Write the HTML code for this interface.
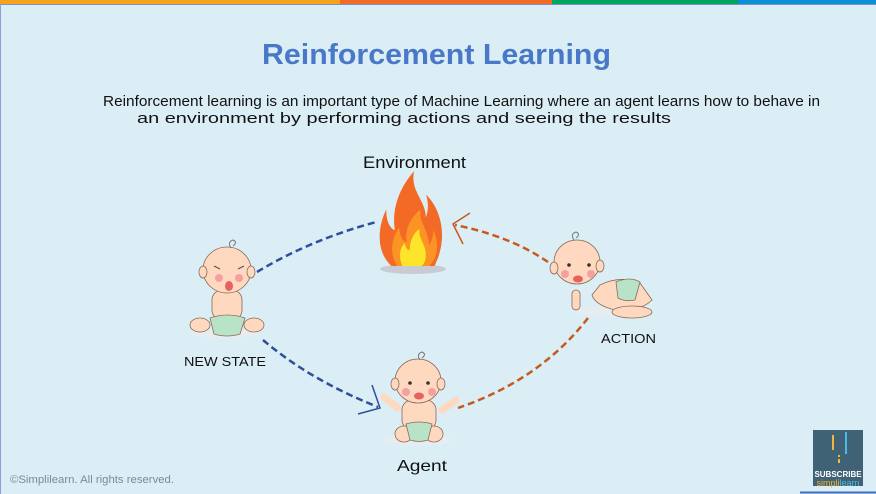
<!DOCTYPE html>
<html><head><meta charset="utf-8"><style>
html,body{margin:0;padding:0}
body{width:876px;height:494px;overflow:hidden;background:#dbeef6;font-family:"Liberation Sans",sans-serif;position:relative}
</style></head><body>
<svg width="876" height="494" viewBox="0 0 876 494" xmlns="http://www.w3.org/2000/svg" style="position:absolute;left:0;top:0">
<rect x="0" y="0" width="876" height="494" fill="#dbeef6"/>
<rect x="0" y="0" width="340" height="4" fill="#f7a21b"/>
<rect x="340" y="0" width="212" height="4" fill="#f26a25"/>
<rect x="552" y="0" width="186" height="4" fill="#00a65a"/>
<rect x="738" y="0" width="138" height="4" fill="#0d8fd6"/>
<line x1="0" y1="4.5" x2="876" y2="4.5" stroke="#7a93d0" stroke-width="1"/>
<line x1="0.5" y1="4" x2="0.5" y2="494" stroke="#8aa0d8" stroke-width="1"/>

<text x="262" y="64" textLength="349" lengthAdjust="spacingAndGlyphs" font-size="29" font-weight="bold" fill="#4a78c8">Reinforcement Learning</text>
<text x="103" y="106" textLength="717" lengthAdjust="spacingAndGlyphs" font-size="14.5" fill="#111">Reinforcement learning is an important type of Machine Learning where an agent learns how to behave in</text>
<text x="137" y="123" textLength="534" lengthAdjust="spacingAndGlyphs" font-size="14.5" fill="#111">an environment by performing actions and seeing the results</text>
<text x="363" y="168" textLength="103" lengthAdjust="spacingAndGlyphs" font-size="17" fill="#111">Environment</text>
<text x="184" y="366" textLength="82" lengthAdjust="spacingAndGlyphs" font-size="13" fill="#111">NEW STATE</text>
<text x="601" y="343" textLength="55" lengthAdjust="spacingAndGlyphs" font-size="13" fill="#111">ACTION</text>
<text x="397" y="471" textLength="50" lengthAdjust="spacingAndGlyphs" font-size="16" fill="#111">Agent</text>
<text x="10" y="483" textLength="164" lengthAdjust="spacingAndGlyphs" font-size="11" fill="#7a8a96">©Simplilearn. All rights reserved.</text>

<path d="M257 272 Q310 240 376 222" fill="none" stroke="#2f4f9a" stroke-width="2.5" stroke-dasharray="7 4"/>
<path d="M263 340 Q310 380 378 407" fill="none" stroke="#2f4f9a" stroke-width="2.5" stroke-dasharray="7 4"/>
<polyline points="372,385 380,408 358,414" fill="none" stroke="#2f4f9a" stroke-width="1.5"/>
<path d="M548 262 Q510 236 455 225" fill="none" stroke="#c55a1c" stroke-width="2.5" stroke-dasharray="7 4"/>
<polyline points="470,213 453,224 463,244" fill="none" stroke="#c55a1c" stroke-width="1.5"/>
<path d="M588 318 Q540 380 458 408" fill="none" stroke="#c55a1c" stroke-width="2.5" stroke-dasharray="7 4"/>

<ellipse cx="413" cy="269" rx="33" ry="5" fill="#c8ccd2"/>
<g transform="translate(413,266) scale(1.07,1.28) translate(-413,-266)">
<path d="M393 266 C378 255 380 235 388 222 C388 232 392 237 396 238 C393 222 400 205 414 192 C410 207 425 215 425 228 C428 222 427 214 425 210 C440 222 446 245 433 266 Z" fill="#f26a25"/>
<path d="M398 266 C390 255 394 243 400 236 C401 244 404 247 407 247 C405 237 412 227 420 222 C418 232 428 238 428 250 C431 246 432 242 432 238 C438 248 436 260 428 266 Z" fill="#fb9425"/>
<path d="M403 266 C399 258 401 252 405 248 C407 254 409 254 410 253 C410 246 414 240 419 237 C418 245 425 249 425 257 C425 262 423 265 421 266 Z" fill="#fde52b"/>
</g>

<g stroke="#8a6a5a" stroke-width="0.8">
<ellipse cx="225" cy="333" rx="34" ry="5" fill="#e6ecef" stroke="none"/>
<ellipse cx="200" cy="325" rx="10" ry="7" fill="#ffd9bf"/>
<ellipse cx="254" cy="325" rx="10" ry="7" fill="#ffd9bf"/>
<rect x="212" y="290" width="30" height="30" rx="10" fill="#ffd9bf"/>
<path d="M210 318 Q227 312 245 318 L240 334 Q227 338 214 334 Z" fill="#b9e3c7"/>
<ellipse cx="227" cy="270" rx="24" ry="23" fill="#ffd9bf"/>
<ellipse cx="203" cy="272" rx="4" ry="6" fill="#ffd9bf"/>
<ellipse cx="251" cy="272" rx="4" ry="6" fill="#ffd9bf"/>
</g>
<circle cx="219" cy="278" r="4" fill="#f4a0a0"/><circle cx="239" cy="278" r="4" fill="#f4a0a0"/>
<ellipse cx="229" cy="286" rx="4" ry="5" fill="#e8615f"/>
<path d="M214 266 l6 3 M244 266 l-6 3" stroke="#555" stroke-width="1.2"/>
<path d="M231 248 q-4 -6 2 -8 q5 2 0 6" fill="none" stroke="#777" stroke-width="1"/>

<g stroke="#8a6a5a" stroke-width="0.8">
<ellipse cx="608" cy="311" rx="35" ry="5" fill="#e6ecef" stroke="none"/>
<path d="M600 285 Q620 275 640 283 L652 300 Q640 312 615 310 Q595 305 592 295 Z" fill="#ffd9bf"/>
<path d="M616 282 Q630 276 640 282 L635 300 Q625 302 618 298 Z" fill="#b9e3c7"/>
<ellipse cx="632" cy="312" rx="20" ry="6" fill="#ffd9bf"/>
<rect x="572" y="290" width="8" height="20" rx="4" fill="#ffd9bf"/>
<ellipse cx="577" cy="262" rx="23" ry="22" fill="#ffd9bf"/>
<ellipse cx="554" cy="268" rx="4" ry="6" fill="#ffd9bf"/>
<ellipse cx="600" cy="266" rx="4" ry="6" fill="#ffd9bf"/>
</g>
<circle cx="569" cy="265" r="1.8" fill="#333"/><circle cx="589" cy="265" r="1.8" fill="#333"/>
<circle cx="565" cy="274" r="4" fill="#f4a0a0"/><circle cx="591" cy="274" r="4" fill="#f4a0a0"/>
<ellipse cx="578" cy="279" rx="5" ry="3.5" fill="#e8615f"/>
<path d="M574 240 q-4 -6 2 -8 q5 2 0 6" fill="none" stroke="#777" stroke-width="1"/>

<g stroke="#8a6a5a" stroke-width="0.8">
<ellipse cx="418" cy="440" rx="34" ry="6" fill="#e6ecef" stroke="none"/>
<path d="M384 397 L398 408 M456 400 L442 410" stroke="#ffd9bf" stroke-width="7" stroke-linecap="round"/>
<rect x="402" y="400" width="34" height="30" rx="10" fill="#ffd9bf"/>
<ellipse cx="404" cy="434" rx="9" ry="8" fill="#ffd9bf"/>
<ellipse cx="434" cy="434" rx="9" ry="8" fill="#ffd9bf"/>
<path d="M406 424 Q419 420 432 424 L428 440 Q419 443 410 440 Z" fill="#b9e3c7"/>
<ellipse cx="418" cy="381" rx="23" ry="22" fill="#ffd9bf"/>
<ellipse cx="395" cy="384" rx="4" ry="6" fill="#ffd9bf"/>
<ellipse cx="441" cy="384" rx="4" ry="6" fill="#ffd9bf"/>
</g>
<circle cx="410" cy="383" r="1.8" fill="#333"/><circle cx="428" cy="383" r="1.8" fill="#333"/>
<circle cx="406" cy="392" r="4" fill="#f4a0a0"/><circle cx="432" cy="392" r="4" fill="#f4a0a0"/>
<ellipse cx="419" cy="396" rx="5" ry="3.5" fill="#e8615f"/>
<path d="M420 360 q-4 -6 2 -8 q5 2 0 6" fill="none" stroke="#777" stroke-width="1"/>

<rect x="813" y="430" width="50" height="56" fill="#3f6275"/>
<rect x="832" y="435" width="2" height="15" fill="#f5b43c"/>
<rect x="845" y="432" width="2" height="22" fill="#4fb8e6"/>
<rect x="838" y="455" width="2" height="2" fill="#f5b43c"/>
<rect x="838" y="459" width="2" height="4" fill="#f5b43c"/>
<text x="838" y="477" text-anchor="middle" font-size="8" font-weight="bold" fill="#fff">SUBSCRIBE</text>
<text x="838" y="486" text-anchor="middle" font-size="9" fill="#f5b43c">simpli<tspan fill="#4fb8e6">learn</tspan></text>
<line x1="800" y1="492.5" x2="876" y2="492.5" stroke="#3d6fc6" stroke-width="2"/>
</svg>
</body></html>
